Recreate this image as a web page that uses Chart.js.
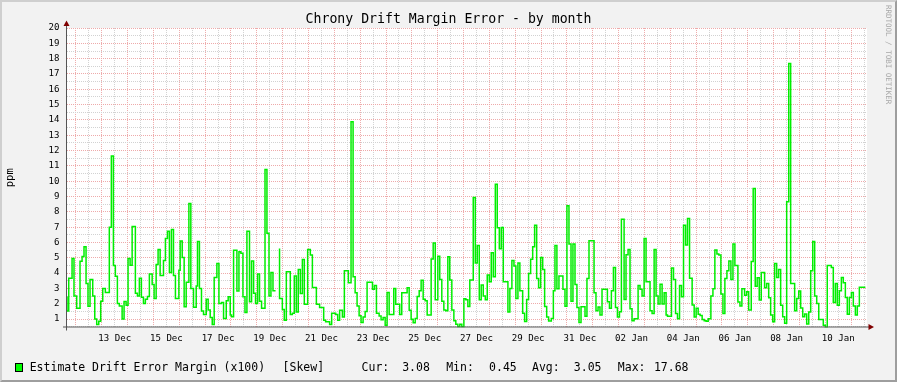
<!DOCTYPE html>
<html>
<head>
<meta charset="utf-8">
<script src="https://cdn.jsdelivr.net/npm/chart.js@4.4.0/dist/chart.umd.min.js"></script>
<style>
html, body { margin: 0; padding: 0; background: #f2f2f2; }
#wrap { position: relative; width: 897px; height: 382px; overflow: hidden; }
#c { position: absolute; left: 0; top: 0; }
#frame { position: absolute; left: 0; top: 0; width: 893px; height: 378px; border: 2px solid; border-color: #cfcfcf #9e9e9e #9e9e9e #cfcfcf; pointer-events: none; }
.lg { position: absolute; top: 361px; font: 11.5px "DejaVu Sans Mono", monospace; line-height: 13px; white-space: pre; color: #000; }
#swatch { position: absolute; left: 15px; top: 363px; width: 6px; height: 7px; background: #00ff00; border: 1px solid #000; }
#mark { position: absolute; left: 884px; top: 5px; writing-mode: vertical-rl; font: 7.5px "DejaVu Sans Mono", monospace; color: #a8a8a8; }
</style>
</head>
<body>
<div id="wrap">
  <canvas id="c" width="897" height="382"></canvas>
  <div id="frame"></div>
  <div id="mark">RRDTOOL / TOBI OETIKER</div>
  <div id="swatch"></div>
  <div id="legend"></div>
</div>
<script>
// hours since graph start (11 Dec ~15:40), 2h consolidated steps
const hours = [
  0.0, 1.6, 4.7, 6.5, 9.0, 12.1, 14.0, 15.8, 17.7, 19.5, 21.4, 23.9, 25.8, 27.6, 29.5, 31.3, 33.2, 35.6, 39.3, 41.2,
  43.1, 44.9, 46.8, 48.6, 51.2, 53.0, 54.9, 56.7, 58.6, 60.5, 63.5, 65.4, 67.2, 69.1, 71.0, 72.8, 74.7, 76.5, 79.1, 80.9,
  82.8, 84.6, 86.5, 89.6, 91.4, 93.3, 95.1, 97.0, 98.9, 100.7, 103.9, 105.1, 107.0, 108.8, 110.7, 113.2, 115.0, 117.5, 120.0, 121.2,
  123.0, 124.9, 126.8, 129.3, 131.1, 133.0, 134.9, 136.7, 139.2, 141.1, 143.5, 145.4, 147.9, 149.7, 151.6, 152.8, 154.7, 157.8, 159.7, 161.5,
  163.4, 165.3, 167.1, 169.5, 171.4, 173.3, 175.1, 177.0, 178.8, 180.7, 183.9, 185.7, 187.6, 189.4, 191.3, 193.7, 195.0, 197.4, 200.0, 201.8,
  203.7, 207.4, 209.3, 211.1, 213.0, 214.8, 216.7, 218.6, 220.4, 223.5, 226.0, 227.9, 231.6, 234.6, 238.4, 240.2, 243.9, 245.8, 249.5, 251.4,
  253.2, 255.8, 257.6, 261.3, 263.8, 265.7, 267.6, 269.4, 271.3, 273.1, 275.0, 276.9, 278.7, 283.7, 285.5, 287.4, 289.9, 291.7, 293.6, 295.5,
  297.3, 299.2, 303.5, 305.3, 309.0, 310.9, 315.9, 317.8, 319.6, 321.5, 323.4, 325.2, 327.1, 328.9, 330.8, 332.7, 334.5, 338.2, 340.1, 342.0,
  344.4, 346.2, 348.1, 350.0, 351.8, 353.7, 355.5, 357.4, 359.3, 361.1, 363.0, 364.8, 366.7, 368.6, 370.4, 372.3, 374.1, 377.3, 379.2, 381.0,
  382.9, 384.7, 386.6, 388.5, 390.3, 392.2, 394.0, 395.9, 397.8, 399.6, 401.5, 403.3, 405.2, 409.5, 411.3, 413.2, 415.1, 416.9, 418.8, 420.6,
  423.2, 425.0, 426.9, 428.7, 430.6, 432.5, 434.3, 436.2, 438.0, 439.9, 441.8, 443.6, 445.5, 447.3, 449.8, 451.7, 453.2, 455.0, 456.9, 460.6,
  462.5, 464.3, 466.2, 468.1, 469.9, 471.8, 473.6, 475.5, 477.4, 481.1, 482.9, 484.8, 489.5, 491.3, 493.2, 495.0, 496.9, 501.9, 503.8, 505.6,
  507.5, 509.4, 511.2, 513.1, 514.9, 517.4, 519.2, 521.1, 522.9, 524.8, 526.7, 530.4, 532.2, 534.1, 536.0, 537.8, 541.5, 543.4, 545.3, 547.1,
  549.0, 550.8, 552.7, 554.6, 556.4, 557.7, 561.4, 563.3, 565.2, 567.0, 568.9, 570.7, 572.6, 574.5, 576.3, 578.2, 580.6, 582.5, 584.3, 586.2,
  588.0, 589.9, 591.8, 593.6, 595.5, 598.0, 599.9, 601.7, 603.6, 605.4, 607.3, 609.2, 611.0, 612.9, 614.7, 616.6, 618.5, 620.3, 623.1, 625.0,
  626.8, 629.3, 631.2, 633.1, 635.5, 637.3, 639.2, 641.0, 642.9, 644.8, 647.9, 649.8, 651.7, 653.5, 655.4, 657.2, 659.1, 660.9, 662.8, 664.7,
  666.5, 668.4, 670.3, 672.1, 675.8, 677.7, 679.6, 681.4, 683.3, 685.1, 687.0, 688.9, 690.7, 692.6, 694.4, 696.3, 698.2, 702.4, 704.3, 706.1,
  709.9, 711.7, 713.6, 715.4, 717.3, 719.2, 721.0, 722.9, 724.7, 726.6, 728.5, 730.3, 732.2, 734.0, 735.9, 737.7, 741.5
];
const skew = [
  2.48, 1.52, 3.66, 4.96, 2.5, 1.7, 4.77, 5.08, 5.72, 3.33, 1.84, 3.59, 2.5, 1.0, 0.65, 0.85, 2.17, 3.0, 2.73, 7.0,
  11.65, 4.5, 3.8, 2.02, 1.85, 1.0, 2.15, 1.91, 4.96, 4.52, 7.05, 2.68, 2.5, 3.66, 2.43, 2.02, 2.3, 2.48, 3.94, 3.26,
  2.35, 4.57, 5.55, 3.85, 4.83, 6.26, 6.74, 4.04, 6.85, 3.85, 2.35, 4.18, 6.09, 5.02, 1.8, 3.41, 8.55, 3.0, 1.77, 3.16,
  6.06, 3.0, 1.52, 1.3, 2.3, 1.6, 1.1, 0.65, 3.72, 4.63, 2.02, 2.08, 1.04, 2.2, 2.45, 1.26, 1.15, 5.5, 2.83, 5.4,
  5.3, 2.45, 1.43, 6.74, 2.13, 4.79, 2.68, 2.02, 3.94, 2.17, 1.7, 10.77, 6.6, 2.5, 4.04, 2.85, null, 5.6, 2.35, 1.63,
  0.93, 4.09, 1.3, 1.38, 3.81, 1.46, 4.24, 2.67, 4.89, 1.96, 5.55, 5.18, 3.06, 1.96, 1.75, 0.93, 0.82, 0.65, 1.38, 1.3,
  0.93, 1.58, 1.13, 4.15, 3.37, 13.88, 3.77, 2.72, 1.86, 1.21, 0.78, 1.13, 1.5, 3.41, 2.94, 3.2, 1.38, 1.2, 0.95, 1.1,
  0.6, 2.74, 1.3, 3.0, 1.96, 1.3, 2.72, 3.05, 1.58, 0.99, 0.76, 1.04, 2.48, 2.85, 3.53, 2.29, 2.2, 1.26, 4.93, 5.97,
  2.26, 5.1, 3.59, 2.17, 1.6, 1.55, 5.07, 3.55, 1.6, 0.89, 0.67, 0.5, 0.67, 0.5, 2.33, 2.26, 1.82, 3.55, 8.94, 4.66,
  5.8, 2.26, 3.22, 2.5, 2.26, 3.87, 3.44, 5.33, 3.77, 9.8, 6.96, 5.59, 6.98, 3.44, 1.47, 3.0, 4.82, 4.46, 2.35, 4.66,
  2.85, 1.38, 0.84, 2.28, 3.98, 4.91, 5.72, 7.13, 3.65, 3.05, 5.02, 4.24, 1.82, 1.13, 0.87, 1.04, 2.85, 5.81, 2.98, 3.81,
  2.94, 1.84, 8.4, 5.9, 2.17, 5.9, 3.26, 1.76, 0.78, 1.8, 1.19, 3.65, 6.11, 2.72, 1.54, 1.79, 1.26, 2.94, 2.13, 1.7,
  2.85, 4.37, 1.76, 1.13, 1.48, 7.51, 2.28, 5.2, 5.55, 1.68, 0.89, 1.02, 3.2, 2.94, 2.5, 6.26, 3.44, 1.54, 1.37, 5.55,
  2.5, 1.98, 3.28, 1.98, 2.72, 1.26, 1.19, 4.33, 3.59, 1.37, 1.02, 3.2, 2.46, 7.12, 5.83, 7.57, 3.67, 1.92, 1.13, 1.7,
  1.32, 1.24, 0.98, 0.89, 0.85, 1.02, 2.5, 2.98, 5.51, 5.25, 5.18, 2.63, 1.37, 3.65, 4.15, 4.79, 3.59, 5.9, 4.5, 2.11,
  1.85, 2.98, 2.56, 2.78, 1.59, 4.76, 9.53, 3.15, 3.7, 2.24, 4.04, 3.04, 3.32, 2.39, 1.26, 0.82, 4.63, 3.72, 4.24, 1.91,
  1.15, 0.72, 8.66, 17.68, 3.32, 1.54, 2.35, 2.83, 1.72, 1.15, 1.33, 0.68, 1.46, 4.15, 6.07, 2.5, 2.02, 0.98, 0.59, 0.45,
  4.5, 4.37, 2.09, 3.32, 1.91, 2.85, 3.72, 3.37, 2.41, 1.31, 2.41, 2.74, 1.85, 1.26, 1.85, 3.08, 3.08
];

// x axis: first midnight (12 Dec 00:00) in hours from start, labels at noon every 2 days
const firstMidnight = 8.3;
const spanHours = 743;
const dayLabels = ['13 Dec', '15 Dec', '17 Dec', '19 Dec', '21 Dec', '23 Dec', '25 Dec', '27 Dec',
  '29 Dec', '31 Dec', '02 Jan', '04 Jan', '06 Jan', '08 Jan', '10 Jan'];

const legendParts = [
  [29.7, 'Estimate Drift Error Margin (x100)'], [282.6, '[Skew]'],
  [361.6, 'Cur:'], [402.2, '3.08'], [446.2, 'Min:'], [489.1, '0.45'],
  [532, 'Avg:'], [573.8, '3.05'], [617.8, 'Max:'], [653.9, '17.68']
];

const MONO = '"DejaVu Sans Mono", monospace';
const MAJOR = '#eeaaaa';
const MINOR = '#d2d2d2';

legendParts.forEach(([x, t]) => {
  const s = document.createElement('span');
  s.className = 'lg';
  s.style.left = x + 'px';
  s.textContent = t;
  document.getElementById('legend').appendChild(s);
});

const xGrid = [];
for (let t = firstMidnight; t <= spanHours; t += 12) xGrid.push(t);
const yGrid = [];
for (let v = 0.5; v <= 20; v += 0.5) yGrid.push(v);

function isMidnight(v) {
  const r = ((v - firstMidnight) % 24 + 24) % 24;
  return r < 0.01 || r > 23.99;
}

function xLabel(v) {
  if (isMidnight(v)) return '';
  const k = Math.round((v - firstMidnight - 12) / 24);
  if (k % 2 !== 1) return '';
  return dayLabels[(k - 1) / 2] || '';
}

const rrdFrame = {
  id: 'rrdFrame',
  beforeDraw(chart) {
    const { ctx, chartArea: a } = chart;
    ctx.save();
    ctx.fillStyle = '#ffffff';
    ctx.fillRect(a.left, a.top, a.right - a.left, a.bottom - a.top);
    ctx.restore();
  },
  afterDraw(chart) {
    const { ctx, chartArea: a } = chart;
    ctx.save();
    ctx.strokeStyle = '#555555';
    ctx.lineWidth = 1;
    ctx.beginPath();
    ctx.moveTo(a.left - 0.5, a.bottom + 3);
    ctx.lineTo(a.left - 0.5, a.top - 5);
    ctx.moveTo(a.left - 4, a.bottom - 0.5);
    ctx.lineTo(a.right + 2, a.bottom - 0.5);
    ctx.stroke();
    ctx.fillStyle = '#800000';
    ctx.beginPath();
    ctx.moveTo(a.left - 0.5, a.top - 7.5);
    ctx.lineTo(a.left - 3.5, a.top - 2);
    ctx.lineTo(a.left + 2.5, a.top - 2);
    ctx.closePath();
    ctx.fill();
    ctx.beginPath();
    ctx.moveTo(a.right + 7, a.bottom - 0.5);
    ctx.lineTo(a.right + 1.5, a.bottom - 3.5);
    ctx.lineTo(a.right + 1.5, a.bottom + 2.5);
    ctx.closePath();
    ctx.fill();
    ctx.restore();
  }
};

new Chart(document.getElementById('c'), {
  type: 'line',
  data: {
    datasets: [{
      label: 'Estimate Drift Error Margin (x100)',
      data: hours.map((h, i) => ({ x: h, y: skew[i] })),
      stepped: 'after',
      borderColor: '#00ee00',
      borderWidth: 1.5,
      pointRadius: 0,
      fill: false,
      spanGaps: false
    }]
  },
  options: {
    responsive: false,
    animation: false,
    devicePixelRatio: 1,
    layout: { padding: 0 },
    plugins: {
      legend: { display: false },
      tooltip: { enabled: false },
      title: {
        display: true,
        text: 'Chrony Drift Margin Error - by month',
        color: '#000',
        font: { family: MONO, size: 13.2, weight: 'normal' },
        padding: { top: 11.4, bottom: 0.8 }
      }
    },
    scales: {
      x: {
        type: 'linear',
        min: 0,
        max: spanHours,
        afterBuildTicks: s => { s.ticks = xGrid.map(v => ({ value: v })); },
        afterFit: s => { s.height = 54.5; },
        grid: {
          drawTicks: false,
          lineWidth: 1,
          color: c => (c.tick && isMidnight(c.tick.value)) ? MAJOR : MINOR
        },
        border: { display: false, dash: [1, 1] },
        ticks: {
          autoSkip: false,
          maxRotation: 0,
          minRotation: 0,
          padding: 5.3,
          color: '#000',
          font: { family: MONO, size: 9.1 },
          callback: v => xLabel(v)
        }
      },
      y: {
        min: 0.45,
        max: 20,
        afterBuildTicks: s => { s.ticks = yGrid.map(v => ({ value: v })); },
        afterFit: s => { s.width = 67; },
        grid: {
          drawTicks: false,
          lineWidth: 1,
          color: c => (c.tick && Number.isInteger(c.tick.value)) ? MAJOR : MINOR
        },
        border: { display: false, dash: [1, 1] },
        ticks: {
          autoSkip: false,
          padding: 7.5,
          color: '#000',
          font: { family: MONO, size: 9.1 },
          callback: v => Number.isInteger(v) ? String(v) : ''
        },
        title: {
          display: true,
          text: 'ppm',
          color: '#000',
          font: { family: MONO, size: 10.5 },
          padding: { top: 4, bottom: 0 }
        }
      },
      // empty right-hand margin so the title centres on the whole image
      yRight: {
        position: 'right',
        min: 0.45,
        max: 20,
        afterFit: s => { s.width = 30; },
        grid: { display: false, drawOnChartArea: false },
        border: { display: false },
        ticks: { display: false }
      }
    }
  },
  plugins: [rrdFrame]
});
</script>
</body>
</html>
